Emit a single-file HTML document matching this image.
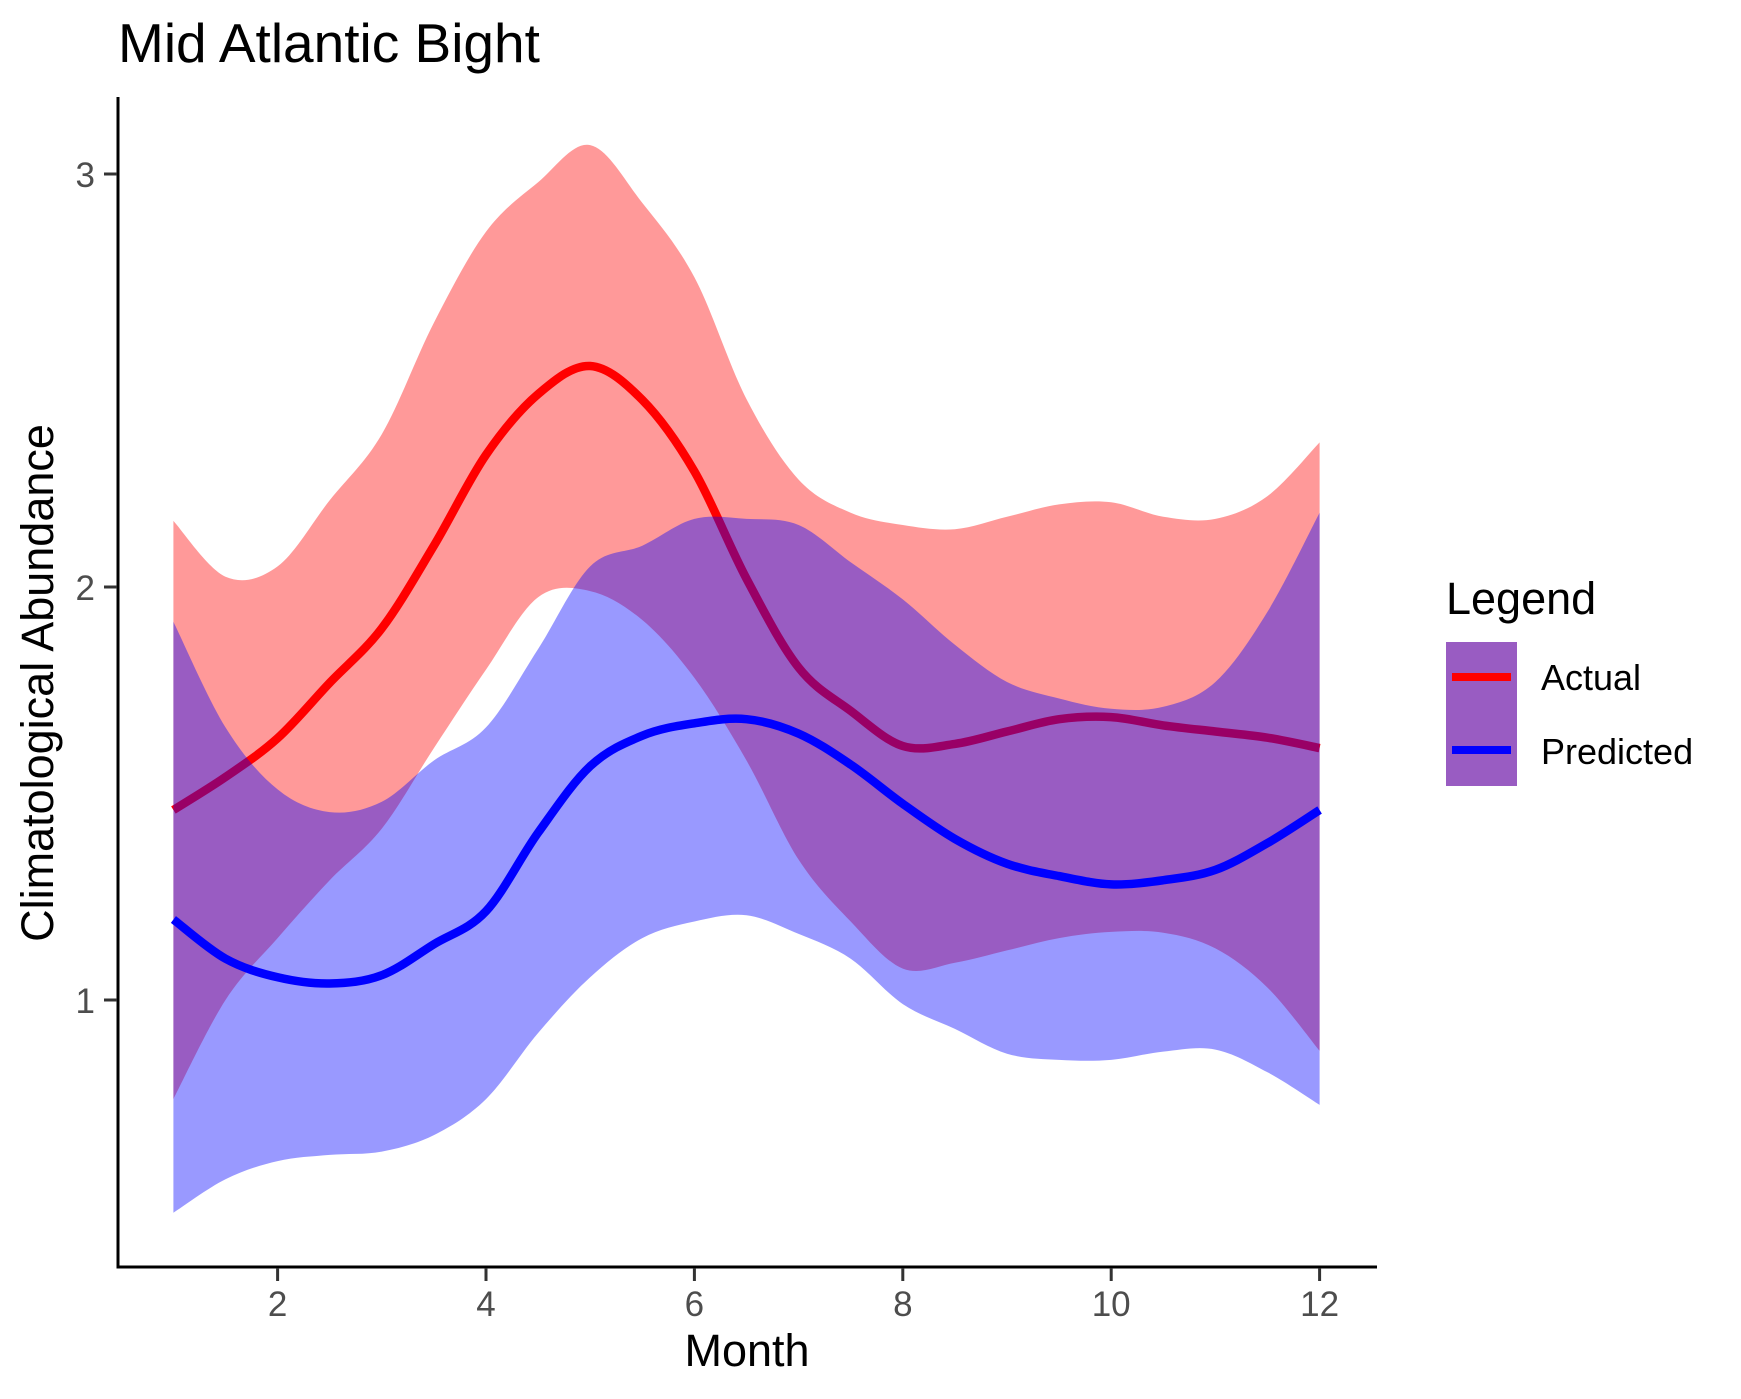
<!DOCTYPE html>
<html><head><meta charset="utf-8">
<style>
html,body{margin:0;padding:0;background:#fff;}
svg{display:block;font-family:"Liberation Sans",Arial,sans-serif;}
</style></head>
<body>
<svg id="chart" width="1741" height="1399" viewBox="0 0 1741 1399" xmlns="http://www.w3.org/2000/svg">
  <rect x="0" y="0" width="1741" height="1399" fill="#fff"/>
  <text x="118" y="62" font-size="55" fill="#000">Mid Atlantic Bight</text>
  <g id="plot"></g>
  <g id="axes"></g>
  <text x="747" y="1366" font-size="45" text-anchor="middle" fill="#000">Month</text>
  <text transform="translate(53,683) rotate(-90)" font-size="45" text-anchor="middle" fill="#000">Climatological Abundance</text>
  <g>
    <text x="1446" y="614" font-size="45" fill="#000">Legend</text>
    <rect x="1446" y="642" width="71" height="144" fill="#995CC2"/>
    <line x1="1452" y1="677" x2="1511" y2="677" stroke="#ff0000" stroke-width="8"/>
    <line x1="1452" y1="750" x2="1511" y2="750" stroke="#0000ff" stroke-width="8"/>
    <text x="1541" y="690" font-size="36" fill="#000">Actual</text>
    <text x="1541" y="764" font-size="36" fill="#000">Predicted</text>
  </g>
</svg>
<script>
const months = [1,1.5,2,2.5,3,3.5,4,4.5,5,5.5,6,6.5,7,7.5,8,8.5,9,9.5,10,10.5,11,11.5,12];
const actual = [1.46,1.54,1.634,1.768,1.90,2.10,2.32,2.467,2.535,2.453,2.28,2.02,1.805,1.70,1.615,1.62,1.65,1.68,1.685,1.665,1.65,1.635,1.61];
const actualUpper = [2.16,2.025,2.05,2.21,2.37,2.64,2.86,2.98,3.07,2.93,2.75,2.455,2.26,2.18,2.15,2.14,2.17,2.20,2.205,2.17,2.165,2.22,2.35];
const actualLower = [0.76,1.0,1.15,1.29,1.415,1.61,1.80,1.975,1.99,1.92,1.78,1.58,1.34,1.19,1.076,1.09,1.12,1.15,1.165,1.163,1.125,1.03,0.877];
const predicted = [1.195,1.10,1.055,1.04,1.06,1.135,1.215,1.405,1.566,1.64,1.67,1.68,1.645,1.57,1.475,1.39,1.33,1.30,1.28,1.29,1.315,1.38,1.46];
const predUpper = [1.916,1.66,1.51,1.455,1.48,1.58,1.66,1.85,2.05,2.10,2.165,2.165,2.15,2.06,1.97,1.86,1.77,1.73,1.705,1.71,1.77,1.94,2.18];
const predLower = [0.485,0.566,0.61,0.625,0.633,0.673,0.76,0.92,1.055,1.15,1.19,1.205,1.16,1.10,0.99,0.93,0.87,0.855,0.855,0.875,0.88,0.825,0.746];
const xTicks = [2,4,6,8,10,12];
const xTickLabels = ["2","4","6","8","10","12"];
const yTicks = [1,2,3];
const yTickLabels = ["1","2","3"];

const NS = "http://www.w3.org/2000/svg";
function xs(m){ return 173.4 + 104.2*(m-1); }
function ys(v){ return 1000 - 413*(v-1); }

function smoothPath(pts, move){
  let d = move ? "M"+pts[0][0].toFixed(1)+","+pts[0][1].toFixed(1) : "L"+pts[0][0].toFixed(1)+","+pts[0][1].toFixed(1);
  for(let i=0;i<pts.length-1;i++){
    const p0=pts[Math.max(0,i-1)], p1=pts[i], p2=pts[i+1], p3=pts[Math.min(pts.length-1,i+2)];
    const c1=[p1[0]+(p2[0]-p0[0])/6, p1[1]+(p2[1]-p0[1])/6];
    const c2=[p2[0]-(p3[0]-p1[0])/6, p2[1]-(p3[1]-p1[1])/6];
    d += " C"+c1[0].toFixed(1)+","+c1[1].toFixed(1)+" "+c2[0].toFixed(1)+","+c2[1].toFixed(1)+" "+p2[0].toFixed(1)+","+p2[1].toFixed(1);
  }
  return d;
}
function pts(vals){ return months.map((m,i)=>[xs(m), ys(vals[i])]); }
function ribbon(up, lo){
  const a = pts(up), b = pts(lo).reverse();
  return smoothPath(a,true) + " " + smoothPath(b,false) + " Z";
}
const plot = document.getElementById("plot");
function add(parent, tag, attrs){
  const el = document.createElementNS(NS, tag);
  for(const k in attrs) el.setAttribute(k, attrs[k]);
  parent.appendChild(el);
  return el;
}
let el;
el = add(plot, "path", {d: ribbon(actualUpper, actualLower), fill:"#ff0000", "fill-opacity":"0.4"});


el = add(plot, "path", {d: smoothPath(pts(actual),true), fill:"none", stroke:"#ff0000", "stroke-width":"8.5", "stroke-linejoin":"round"});


el = add(plot, "path", {d: ribbon(predUpper, predLower), fill:"#0000ff", "fill-opacity":"0.4"});


el = add(plot, "path", {d: smoothPath(pts(predicted),true), fill:"none", stroke:"#0000ff", "stroke-width":"8.5", "stroke-linejoin":"round"});



const axes = document.getElementById("axes");
el = add(axes, "line", {x1:118, y1:97, x2:118, y2:1268, stroke:"#000", "stroke-width":"3"});


el = add(axes, "line", {x1:116.5, y1:1267, x2:1377, y2:1267, stroke:"#000", "stroke-width":"3"});


xTicks.forEach((t,i)=>{
  let tk = add(axes, "line", {x1:xs(t), y1:1268, x2:xs(t), y2:1281, stroke:"#333", "stroke-width":"3"});
  
  
  let lb = add(axes, "text", {x:xs(t), y:1316, "font-size":"35", "text-anchor":"middle", fill:"#4d4d4d"});
  lb.textContent = xTickLabels[i];
  
  
});
yTicks.forEach((t,i)=>{
  let tk = add(axes, "line", {x1:104, y1:ys(t), x2:117, y2:ys(t), stroke:"#333", "stroke-width":"3"});
  
  
  let lb = add(axes, "text", {x:95, y:ys(t)+13, "font-size":"35", "text-anchor":"end", fill:"#4d4d4d"});
  lb.textContent = yTickLabels[i];
  
  
});
</script>
</body></html>
